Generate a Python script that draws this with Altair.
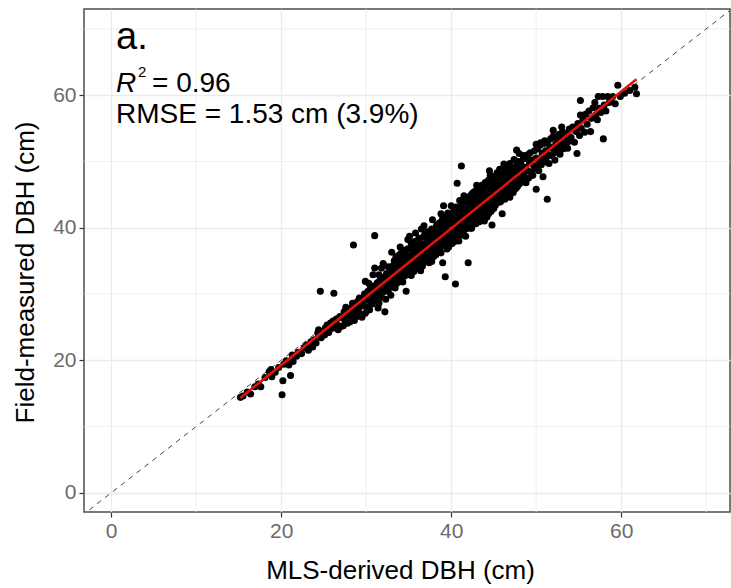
import altair as alt
import pandas as pd

# ---- data (MLS-derived DBH, field-measured DBH), cm ----
pts_low = [(15.2,14.4),(15.5,14.6),(16.0,15.2),(16.4,14.9),(16.9,16.0),(17.3,16.4),(17.6,16.0),
           (18.1,17.4),(18.6,18.3),(18.8,18.6),(18.9,17.5),(19.3,18.2),(19.7,18.9),(20.1,14.8),
           (20.2,16.9),(20.3,19.4),(20.6,19.9),(20.9,19.3),(21.1,17.7),(21.3,20.8),(21.4,19.8),
           (21.8,20.6),(22.0,21.2)]
pts_22_27 = [(22.4,21.0),(22.7,21.9),(23.0,22.3),(23.2,21.5),(23.5,22.8),(23.7,22.0),(23.9,23.1),
             (24.1,22.6),(24.3,24.1),(24.4,24.6),(24.6,30.4),(24.7,23.4),(24.9,24.0),(25.1,23.8),
             (25.2,24.9),(25.4,25.3),(25.6,24.2),(25.8,25.6),(25.9,24.8),(26.1,25.9),(26.2,30.1),
             (26.3,24.9),(26.5,26.2),(26.6,25.4),(26.7,24.6),(26.9,26.6),(27.0,25.1)]
pts_27_33 = [(27.2,26.4),(27.3,25.2),(27.4,27.3),(27.5,26.0),(27.6,28.0),(27.7,26.8),(27.8,25.6),
             (27.9,27.5),(28.0,26.9),(28.1,25.8),(28.2,27.9),(28.3,26.4),(28.4,28.6),(28.5,37.4),
             (28.5,27.1),(28.6,26.0),(28.7,28.1),(28.8,27.4),(28.9,26.6),(29.0,28.9),(29.1,27.8),
             (29.2,29.4),(29.3,27.0),(29.4,28.5),(29.5,26.5),(29.6,29.0),(29.7,28.2),(29.8,30.0),
             (29.9,27.1),(29.9,31.9),(30.0,29.3),(30.1,28.0),(30.2,30.4),(30.3,29.0),(30.4,27.6),
             (30.5,30.9),(30.6,29.6),(30.7,28.5),(30.8,31.2),(30.9,30.0),(31.0,38.8),(31.0,33.9),
             (31.0,28.9),(31.1,30.8),(31.2,29.4),(31.3,31.7),(31.4,27.9),(31.4,30.2),(31.5,28.6),
             (31.6,32.0),(31.7,30.9),(31.8,33.9),(31.8,29.5),(31.9,31.4),(32.0,30.3),(32.1,32.5),
             (32.2,27.3),(32.2,31.0),(32.3,29.2),(32.4,33.1),(32.5,31.8),(32.6,30.4),(32.7,32.8),
             (32.8,31.3),(32.9,29.8),(33.0,33.4),(33.0,31.9)]
pts_33_37 = [(33.1,32.0),(33.1,34.2),(33.2,31.1),(33.2,33.0),(33.3,35.0),(33.3,32.4),(33.4,30.9),
             (33.4,33.7),(33.5,32.8),(33.5,34.6),(33.6,31.6),(33.6,33.3),(33.7,35.4),(33.7,32.1),
             (33.8,34.0),(33.8,31.9),(33.9,33.5),(33.9,35.9),(34.0,32.6),(34.0,34.4),
             (34.1,33.3),(34.1,35.1),(34.2,36.4),(34.2,32.2),(34.3,34.0),(34.3,31.8),(34.4,35.7),
             (34.4,33.6),(34.5,34.7),(34.5,32.7),(34.6,36.2),(34.6,33.9),(34.7,30.4),(34.7,35.0),
             (34.8,32.9),(34.8,34.4),(34.9,36.8),(34.9,33.1),(35.0,35.4),(35.0,34.0),
             (35.1,33.0),(35.1,38.7),(35.2,35.8),(35.2,34.5),(35.3,36.9),(35.3,32.8),(35.4,35.1),
             (35.4,33.7),(35.5,37.5),(35.5,34.9),(35.6,36.3),(35.6,33.4),(35.7,35.6),(35.7,37.9),
             (35.8,34.2),(35.8,36.0),(35.9,33.9),(35.9,35.3),(36.0,37.2),(36.0,34.7),
             (36.1,36.5),(36.1,33.9),(36.2,35.4),(36.2,38.2),(36.3,34.6),(36.3,36.9),(36.4,35.9),
             (36.4,33.5),(36.5,37.6),(36.5,35.0),(36.6,36.3),(36.6,34.2),(36.7,38.6),(36.7,35.6),
             (36.8,37.1),(36.8,34.8),(36.9,36.0),(36.9,39.0),(37.0,35.3),(37.0,37.4)]
pts_37_41 = [(37.1,36.6),(37.1,34.9),(37.2,38.1),(37.2,35.8),(37.3,37.3),(37.3,39.4),(37.4,34.7),
             (37.4,36.9),(37.5,38.5),(37.5,35.5),(37.6,37.7),(37.6,36.2),(37.7,39.8),(37.7,34.9),
             (37.8,37.0),(37.8,38.9),(37.9,36.4),(37.9,35.6),(38.0,38.2),(38.0,37.4),
             (38.1,36.8),(38.1,39.5),(38.2,38.0),(38.2,35.9),(38.3,40.2),(38.3,37.4),(38.4,38.7),
             (38.4,36.3),(38.5,39.9),(38.5,37.8),(38.6,36.6),(38.6,40.7),(38.7,38.3),(38.7,37.0),
             (38.8,39.4),(38.8,36.2),(38.9,38.9),(38.9,41.0),(39.0,37.6),(39.0,34.7),
             (39.1,43.3),(39.1,38.5),(39.2,40.1),(39.2,37.3),(39.3,32.6),(39.3,39.0),(39.4,41.3),
             (39.4,37.9),(39.5,39.6),(39.5,36.8),(39.6,42.2),(39.6,40.5),(39.7,38.4),(39.7,37.1),
             (39.8,41.1),(39.8,39.2),(39.9,37.7),(39.9,40.8),(40.0,38.9),(40.0,42.0),
             (40.1,39.5),(40.1,37.6),(40.2,41.4),(40.2,38.8),(40.3,40.3),(40.3,42.6),(40.4,39.0),
             (40.4,37.9),(40.5,31.5),(40.5,41.0),(40.6,39.8),(40.6,43.1),(40.7,46.7),(40.7,38.5),
             (40.8,40.6),(40.8,42.1),(40.9,39.3),(40.9,38.0),(41.0,41.5),(41.0,40.1)]
pts_41_45 = [(41.1,42.8),(41.1,39.4),(41.2,49.3),(41.2,41.0),(41.3,38.9),(41.3,43.5),(41.4,40.4),
             (41.4,42.0),(41.5,39.6),(41.5,44.0),(41.6,41.3),(41.6,40.0),(41.7,42.7),(41.7,38.7),
             (41.8,43.9),(41.8,41.6),(41.9,40.5),(41.9,42.3),(42.0,34.7),(42.0,39.9),(42.0,44.6),
             (42.1,41.8),(42.1,43.3),(42.2,40.3),(42.2,42.5),(42.3,44.9),(42.3,41.0),(42.4,43.8),
             (42.4,39.9),(42.5,42.2),(42.5,45.2),(42.6,40.8),(42.6,43.0),(42.7,45.4),(42.7,41.5),
             (42.8,44.3),(42.8,42.7),(42.9,40.6),(42.9,43.6),(43.0,42.0),(43.0,45.7),
             (43.1,43.1),(43.1,41.2),(43.2,44.6),(43.2,42.4),(43.3,46.0),(43.3,40.9),(43.4,43.7),
             (43.4,45.1),(43.5,41.8),(43.5,44.2),(43.6,42.9),(43.6,46.4),(43.7,41.4),(43.7,43.5),
             (43.8,45.5),(43.8,42.2),(43.9,44.8),(43.9,41.0),(44.0,43.9),(44.0,46.8),
             (44.1,42.7),(44.1,45.0),(44.2,44.2),(44.2,41.6),(44.3,46.3),(44.3,43.3),(44.4,47.2),
             (44.4,42.1),(44.5,48.6),(44.5,44.7),(44.6,43.0),(44.6,45.8),(44.7,42.5),(44.7,46.9),
             (44.8,40.4),(44.8,44.3),(44.9,45.4),(44.9,43.6),(45.0,47.5),(45.0,42.9)]
pts_45_48 = [(45.1,44.8),(45.1,46.2),(45.2,43.4),(45.2,47.8),(45.3,45.5),(45.3,44.0),(45.4,46.7),
             (45.4,48.3),(45.5,43.8),(45.5,45.9),(45.6,47.1),(45.6,44.5),(45.7,46.3),(45.7,48.8),
             (45.8,43.9),(45.8,45.2),(45.9,47.4),(45.9,44.6),(46.0,42.1),(46.0,46.0),
             (46.1,47.9),(46.1,44.9),(46.2,46.6),(46.2,45.5),(46.3,48.4),(46.3,44.3),(46.4,47.2),
             (46.4,46.0),(46.5,49.1),(46.5,45.1),(46.6,47.6),(46.6,44.8),(46.7,46.4),(46.7,48.7),
             (46.8,45.6),(46.8,47.0),(46.9,49.7),(46.9,44.6),(47.0,46.9),(47.0,48.1),
             (47.1,45.8),(47.1,47.5),(47.2,49.0),(47.2,46.4),(47.3,48.2),(47.3,45.3),(47.4,47.9),
             (47.4,50.3),(47.5,46.7),(47.5,48.8),(47.6,45.9),(47.6,47.2),(47.7,51.7),(47.7,49.4),
             (47.8,46.2),(47.8,48.5),(47.9,47.1),(47.9,50.0),(48.0,46.6),(48.0,48.9)]
pts_48_54 = [(48.1,47.4),(48.2,49.6),(48.3,46.9),(48.4,48.3),(48.5,50.4),(48.6,47.7),(48.7,49.1),
             (48.8,46.8),(48.9,50.8),(49.0,48.6),(49.1,47.5),(49.2,49.9),(49.3,51.3),(49.4,48.4),
             (49.5,50.2),(49.6,47.9),(49.7,49.4),(49.8,51.6),(49.9,48.9),(50.0,45.8),(50.0,50.5),
             (50.1,49.2),(50.2,51.9),(50.3,48.6),(50.4,50.0),(50.5,52.5),(50.6,49.5),(50.7,51.2),
             (50.8,47.7),(50.8,50.3),(50.9,52.7),(51.0,49.9),(51.1,51.6),(51.2,50.6),(51.3,44.3),
             (51.3,52.9),(51.4,51.0),(51.5,49.7),(51.6,52.2),(51.7,53.4),(51.8,50.9),(51.9,52.0),
             (52.0,53.8),(52.1,51.3),(52.2,50.2),(52.3,52.6),(52.4,53.5),(52.5,51.7),(52.6,52.9),
             (52.7,54.1),(52.8,51.1),(52.9,53.2),(53.0,52.3),(53.1,54.4),(53.2,51.9),(53.3,53.7),
             (53.4,52.6),(53.6,54.3),(53.7,52.0),(53.8,53.0),(53.9,54.9)]
pts_high = [(54.1,53.6),(54.3,55.2),(54.5,52.9),(54.7,54.5),(54.8,51.2),(54.9,55.7),(55.1,53.9),
            (55.2,59.2),(55.2,57.0),(55.3,55.0),(55.5,56.3),(55.7,54.4),(55.8,57.1),(56.0,55.6),
            (56.2,57.6),(56.4,54.5),(56.5,56.5),(56.7,58.1),(56.9,58.9),(57.0,57.0),(57.2,56.3),
            (57.3,59.8),(57.4,58.0),(57.6,57.4),(57.8,59.8),(57.9,53.4),(58.0,58.5),(58.2,57.6),
            (58.4,59.8),(58.6,58.9),(58.8,59.4),(59.0,59.8),(59.3,58.7),(59.6,61.5),(59.9,59.8),
            (60.4,60.3),(61.0,60.7),(61.8,60.2),(61.6,61.2)]
# ragged upper edge of the dense band (points lying above the fit)
pts_upper = [(30.3,31.6),(30.8,32.9),(31.5,32.9),(32.0,34.6),(32.6,34.1),(33.0,36.3),(33.5,35.6),
             (34.0,37.1),(34.4,36.6),(34.9,38.2),(35.3,37.7),(35.8,39.2),(36.2,38.4),(36.8,40.3),
             (37.2,39.3),(37.8,41.2),(38.3,40.4),(38.8,42.1),(39.4,41.4),(40.0,43.3),(40.8,42.9),
             (41.5,44.8),(42.2,44.1),(43.0,46.4),(43.8,45.9),(44.6,47.9),(45.4,47.4),(46.2,49.6),
             (47.0,49.1),(48.0,51.2),(49.0,51.0),(50.0,52.6),(51.0,53.1),(52.0,54.7),(53.0,55.2),
             (36.5,39.8),(39.0,41.6),(41.0,44.1),(43.4,45.5),(45.8,48.7),(48.5,50.9),(50.5,52.8)]

major_ticks = [0, 20, 40, 60]
minor_ticks = [10, 30, 50, 70]
one_to_one = [-10, 80]

x_title = "MLS-derived DBH (cm)"
y_title = "Field-measured DBH (cm)"
label_a = "a."
r2_text = "= 0.96"
rmse_text = "RMSE = 1.53 cm (3.9%)"

segments = [pts_low, pts_22_27, pts_27_33, pts_33_37, pts_37_41, pts_41_45, pts_45_48,
            pts_48_54, pts_high, pts_upper]
rows = [p for seg in segments for p in seg]
df = pd.DataFrame(rows, columns=["mls", "field"])

FONT = "Liberation Sans"
xs = alt.Scale(domain=[-3.2, 72.8], nice=False, zero=False)
ys = alt.Scale(domain=[-2.9, 73.0], nice=False, zero=False)

x_axis = alt.Axis(values=major_ticks, title=x_title, titleX=316, titleY=66,
                  titleBaseline="alphabetic", titleAlign="center")
y_axis = alt.Axis(values=major_ticks, title=y_title, titleX=-59, titleY=263,
                  titleAngle=-90, titleBaseline="middle", titleAlign="center")

def X(field):
    return alt.X(field, scale=xs, axis=x_axis, title=x_title)

def Y(field):
    return alt.Y(field, scale=ys, axis=y_axis, title=y_title)

minor_df = pd.DataFrame({"v": minor_ticks})
grid_x = alt.Chart(minor_df).mark_rule(color="#ebebeb", strokeWidth=0.8).encode(x=X("v:Q"))
grid_y = alt.Chart(minor_df).mark_rule(color="#ebebeb", strokeWidth=0.8).encode(y=Y("v:Q"))

line_df = pd.DataFrame({"a": one_to_one, "b": one_to_one})
diag = alt.Chart(line_df).mark_line(color="#444444", strokeWidth=1, strokeDash=[5, 5], clip=True).encode(
    x=X("a:Q"), y=Y("b:Q"))

points = alt.Chart(df).mark_circle(size=50, color="black", opacity=1).encode(
    x=X("mls:Q"), y=Y("field:Q"))

fit = alt.Chart(df).transform_regression("mls", "field").mark_line(
    color="#e0120c", strokeWidth=2.6).encode(x=X("mls:Q"), y=Y("field:Q"))

def label(txt, x, y, size, style="normal", align="left"):
    return alt.Chart(pd.DataFrame({"t": [txt]})).mark_text(
        font=FONT, fontSize=size, fontStyle=style, align=align, baseline="alphabetic",
        color="black").encode(x=alt.value(x), y=alt.value(y), text="t:N")

texts = (label(label_a, 32, 40, 38)
         + label("R", 32, 83, 28, style="italic")
         + label("2", 54, 68, 15)
         + label(r2_text, 68, 83, 28)
         + label(rmse_text, 32, 114, 28))

chart = alt.layer(grid_x, grid_y, diag, points, fit, texts).properties(
    width=646, height=503,
    autosize=alt.AutoSizeParams(type="none"),
    padding={"left": 84, "top": 9, "right": 1, "bottom": 76},
).configure_view(
    stroke="#4d4d4d", strokeWidth=1.5
).configure_axis(
    domain=False, grid=True, gridColor="#ebebeb", gridWidth=1.3,
    ticks=True, tickColor="#333333", tickSize=5, tickWidth=1.2,
    labelFont=FONT, labelFontSize=21, labelColor="#6b6b6b", labelPadding=3,
    titleFont=FONT, titleFontSize=26, titleFontWeight="normal", titleColor="black"
)

chart.save("out.html", embed_options={"renderer": "svg", "actions": False})
